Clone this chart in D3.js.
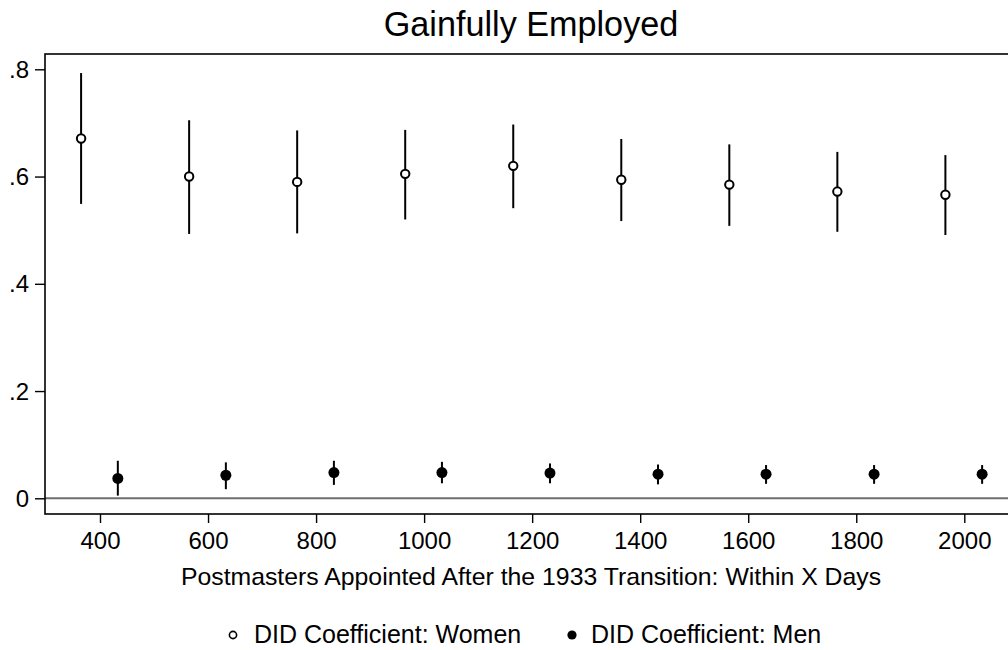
<!DOCTYPE html>
<html>
<head>
<meta charset="utf-8">
<script src="https://cdn.jsdelivr.net/npm/d3@7"></script>
<style>
  html, body { margin: 0; padding: 0; background: #fff; }
  svg { display: block; font-family: "Liberation Sans", Arial, sans-serif; }
</style>
</head>
<body>
<svg id="chart" width="1008" height="650"></svg>
<script>
// window sizes (days)
const windows = [400, 600, 800, 1000, 1200, 1400, 1600, 1800, 2000];
// women plotted just left of each window, men just right
const womenX = [365, 565, 765, 965, 1165, 1365, 1565, 1765, 1965];
const menX = [433, 633, 833, 1033, 1233, 1433, 1633, 1833, 2033];

const womenCoef = [0.671, 0.600, 0.590, 0.605, 0.620, 0.594, 0.585, 0.572, 0.566];
const womenLo   = [0.549, 0.493, 0.494, 0.520, 0.541, 0.517, 0.508, 0.497, 0.491];
const womenHi   = [0.793, 0.705, 0.686, 0.687, 0.697, 0.670, 0.660, 0.646, 0.640];

const menCoef = [0.037, 0.043, 0.048, 0.048, 0.047, 0.045, 0.045, 0.045, 0.045];
const menLo   = [0.005, 0.017, 0.025, 0.028, 0.028, 0.026, 0.027, 0.027, 0.027];
const menHi   = [0.070, 0.067, 0.070, 0.068, 0.065, 0.063, 0.062, 0.062, 0.062];

const yTicks = [0, 0.2, 0.4, 0.6, 0.8];
const yTickLabels = ["0", ".2", ".4", ".6", ".8"];

const svg = d3.select("#chart");

// plot frame (right edge falls just off the canvas)
const frame = {left: 45, top: 54, bottom: 514, right: 1019};

const x = d3.scaleLinear().domain([400, 2000]).range([100, 964.3]);
const y = d3.scaleLinear().domain([0, 0.8]).range([498.3, 69.3]);

// title
svg.append("text")
  .attr("x", 531).attr("y", 36)
  .attr("text-anchor", "middle")
  .attr("font-size", 34.2)
  .text("Gainfully Employed");

// zero line
svg.append("line")
  .attr("x1", frame.left).attr("x2", frame.right)
  .attr("y1", y(0)).attr("y2", y(0))
  .attr("stroke", "#6e6e6e").attr("stroke-width", 2);

// frame box
svg.append("rect")
  .attr("x", frame.left).attr("y", frame.top)
  .attr("width", frame.right - frame.left).attr("height", frame.bottom - frame.top)
  .attr("fill", "none").attr("stroke", "#000").attr("stroke-width", 1.6);

// y axis
const yAxis = d3.axisLeft(y)
  .tickValues(yTicks)
  .tickSize(10)
  .tickPadding(6)
  .tickFormat((d, i) => yTickLabels[i]);
const gy = svg.append("g").attr("transform", `translate(${frame.left},0)`).call(yAxis);
gy.select(".domain").remove();
gy.selectAll(".tick line").attr("stroke", "#000").attr("stroke-width", 1.4);
gy.selectAll(".tick text")
  .attr("font-size", 24).attr("font-family", "Liberation Sans, Arial, sans-serif")
  .attr("fill", "#000").attr("dy", "0.34em");

// x axis
const xAxis = d3.axisBottom(x)
  .tickValues(windows)
  .tickSize(9)
  .tickPadding(8)
  .tickFormat(d3.format("d"));
const gx = svg.append("g").attr("transform", `translate(0,${frame.bottom})`).call(xAxis);
gx.select(".domain").remove();
gx.selectAll(".tick line").attr("stroke", "#000").attr("stroke-width", 1.4);
gx.selectAll(".tick text")
  .attr("font-size", 24).attr("font-family", "Liberation Sans, Arial, sans-serif")
  .attr("fill", "#000").attr("dy", "0.76em");

// x axis title
svg.append("text")
  .attr("x", 531).attr("y", 585)
  .attr("text-anchor", "middle")
  .attr("font-size", 24.8)
  .text("Postmasters Appointed After the 1933 Transition: Within X Days");

// women: CI + hollow circles
const women = womenX.map((d, i) => ({x: d, c: womenCoef[i], lo: womenLo[i], hi: womenHi[i]}));
const men = menX.map((d, i) => ({x: d, c: menCoef[i], lo: menLo[i], hi: menHi[i]}));

const gw = svg.append("g");
gw.selectAll("line").data(women).enter().append("line")
  .attr("x1", d => x(d.x)).attr("x2", d => x(d.x))
  .attr("y1", d => y(d.lo)).attr("y2", d => y(d.hi))
  .attr("stroke", "#000").attr("stroke-width", 2);
gw.selectAll("circle").data(women).enter().append("circle")
  .attr("cx", d => x(d.x)).attr("cy", d => y(d.c))
  .attr("r", 4.2)
  .attr("fill", "#fff").attr("stroke", "#000").attr("stroke-width", 2);

const gm = svg.append("g");
gm.selectAll("line").data(men).enter().append("line")
  .attr("x1", d => x(d.x)).attr("x2", d => x(d.x))
  .attr("y1", d => y(d.lo)).attr("y2", d => y(d.hi))
  .attr("stroke", "#000").attr("stroke-width", 2);
gm.selectAll("circle").data(men).enter().append("circle")
  .attr("cx", d => x(d.x)).attr("cy", d => y(d.c))
  .attr("r", 5.5)
  .attr("fill", "#000");

// legend
const lg = svg.append("g");
lg.append("circle").attr("cx", 233).attr("cy", 635).attr("r", 3.6)
  .attr("fill", "#fff").attr("stroke", "#000").attr("stroke-width", 1.6);
lg.append("text").attr("x", 254).attr("y", 643).attr("font-size", 25)
  .text("DID Coefficient: Women");
lg.append("circle").attr("cx", 572).attr("cy", 635).attr("r", 4.6)
  .attr("fill", "#000");
lg.append("text").attr("x", 591).attr("y", 643).attr("font-size", 25)
  .text("DID Coefficient: Men");
</script>
</body>
</html>
